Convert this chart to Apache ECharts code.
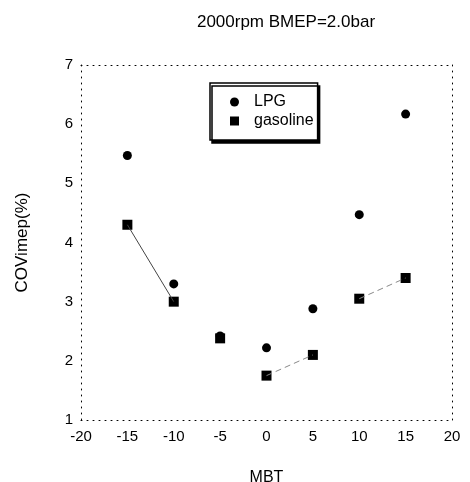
<!DOCTYPE html>
<html><head><meta charset="utf-8">
<script src="https://cdn.jsdelivr.net/npm/echarts@6/dist/echarts.min.js"></script>
<style>html,body{margin:0;padding:0;background:#fff}#c{width:470px;height:482px}</style>
</head><body><div id="c"></div>
<script>
var xValues = [-15, -10, -5, 0, 5, 10, 15];
var lpg = [5.47, 3.3, 2.42, 2.22, 2.88, 4.47, 6.17];
var gasoline = [4.3, 3.0, 2.38, 1.75, 2.1, 3.05, 3.4];
// pairs of gasoline points joined by a thin line in the original
var solidSegments = [[0, 1]];
var dashedSegments = [[3, 4], [5, 6]];

function segData(segs) {
  var out = [];
  segs.forEach(function (s, k) {
    if (k > 0) out.push('-');
    out.push([xValues[s[0]], gasoline[s[0]]]);
    out.push([xValues[s[1]], gasoline[s[1]]]);
  });
  return out;
}

var font = 'Liberation Sans, Arial, sans-serif';
var chart = echarts.init(document.getElementById('c'));
var dotted = {show: true, onZero: false, lineStyle: {color: '#000', type: [1, 5], width: 1}};
chart.setOption({
  animation: false,
  title: {text: '2000rpm BMEP=2.0bar', left: 281, top: 9, textAlign: 'center',
    textStyle: {fontFamily: font, fontSize: 17, fontWeight: 'normal', color: '#000'}},
  legend: {
    left: 210, top: 83, orient: 'vertical', itemGap: 3,
    padding: [11, 4, 11, 20],
    backgroundColor: '#fff', borderColor: '#000', borderWidth: 1.5, borderRadius: 0,
    shadowColor: '#000', shadowBlur: 0, shadowOffsetX: 2, shadowOffsetY: 3,
    itemWidth: 9, itemHeight: 9,
    textStyle: {fontFamily: font, fontSize: 16, color: '#000', padding: [0, 0, 0, 10]},
    data: [{name: 'LPG', icon: 'circle'}, {name: 'gasoline', icon: 'rect'}]
  },
  grid: {left: 81, right: 18, top: 65, bottom: 62, outerBoundsMode: 'none', containLabel: false},
  xAxis: [{
    type: 'value', min: -20, max: 20, interval: 5,
    name: 'MBT', nameLocation: 'middle', nameGap: 50,
    nameTextStyle: {fontFamily: font, fontSize: 16, color: '#000'},
    axisLine: dotted, axisTick: {show: false}, splitLine: {show: false},
    axisLabel: {fontFamily: font, fontSize: 15, color: '#000', margin: 9}
  }, {
    type: 'value', position: 'top', min: -20, max: 20,
    axisLine: dotted, axisTick: {show: false}, splitLine: {show: false}, axisLabel: {show: false}
  }],
  yAxis: [{
    type: 'value', min: 1, max: 7, interval: 1,
    name: 'COVimep(%)', nameLocation: 'middle', nameGap: 50,
    nameTextStyle: {fontFamily: font, fontSize: 17, color: '#000'},
    axisLine: dotted, axisTick: {show: false}, splitLine: {show: false},
    axisLabel: {fontFamily: font, fontSize: 15, color: '#000', margin: 8}
  }, {
    type: 'value', position: 'right', min: 1, max: 7,
    axisLine: dotted, axisTick: {show: false}, splitLine: {show: false}, axisLabel: {show: false}
  }],
  series: [
    {type: 'line', name: 'gasolineLineA', data: segData(solidSegments), showSymbol: false, symbol: 'none',
      lineStyle: {color: '#444', width: 1}, connectNulls: false, silent: true},
    {type: 'line', name: 'gasolineLineB', data: segData(dashedSegments), showSymbol: false, symbol: 'none',
      lineStyle: {color: '#888', width: 1, type: [6, 4]}, connectNulls: false, silent: true},
    {type: 'scatter', name: 'LPG', symbol: 'circle', symbolSize: 9,
      itemStyle: {color: '#000', opacity: 1},
      data: xValues.map(function (x, i) { return [x, lpg[i]]; })},
    {type: 'scatter', name: 'gasoline', symbol: 'rect', symbolSize: 10,
      itemStyle: {color: '#000', opacity: 1},
      data: xValues.map(function (x, i) { return [x, gasoline[i]]; })}
  ]
});
</script></body></html>
